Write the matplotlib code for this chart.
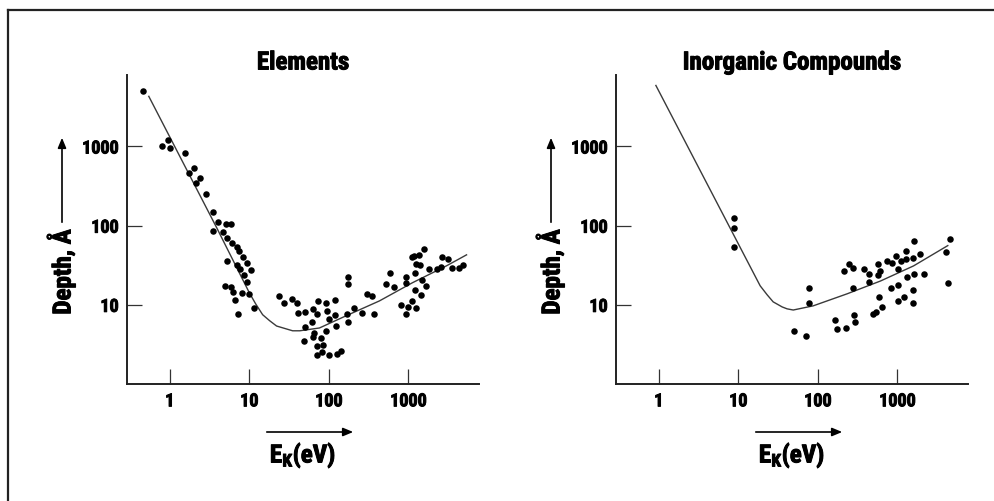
import matplotlib
matplotlib.use("Agg")
import matplotlib.pyplot as plt
import matplotlib.patheffects as pe
from matplotlib.lines import Line2D
from matplotlib.patches import FancyArrowPatch

plt.rcParams["font.family"] = ["Roboto Condensed", "DejaVu Sans"]
plt.rcParams["font.weight"] = "bold"
plt.rcParams["mathtext.fontset"] = "custom"
plt.rcParams["mathtext.rm"] = "Roboto Condensed:bold"
plt.rcParams["mathtext.it"] = "Roboto Condensed:bold"
plt.rcParams["mathtext.bf"] = "Roboto Condensed:bold"

# --- Elements: measured points (kinetic energy eV, depth A)
elem_ek = [0.46, 0.81, 0.95, 1.0, 1.57, 2.0, 1.75, 2.43, 2.12, 2.89, 3.49, 4.0, 5.15, 5.94,
           3.49, 4.67, 5.24, 6.12, 6.99, 7.41, 8.32, 5.24, 9.33, 6.99, 7.71, 10.4, 8.48, 9.25,
           5.0, 5.94, 6.22, 8.17, 9.8, 6.54, 11.6, 7.19,
           23.5, 27.2, 34.6, 39.5, 41.2, 49.4, 62.8, 72.6, 70.5, 61.7, 49.9, 65.4, 62.8, 48.4,
           70.5, 71.3, 79, 84.7, 83, 98.9, 92.5, 95.2, 99.8, 119, 121, 92.5, 122, 127, 143,
           176, 176, 170, 176, 205, 259, 302, 349, 370, 517, 587, 652, 815, 933, 933, 941, 997,
           1120, 1245, 1097, 1186, 1370, 1553, 1245, 1400, 1222, 1791, 1494, 1222, 1678, 1439,
           2260, 2566, 2663, 3103, 3525, 4350, 4790]
elem_depth = [5070, 1020, 1200, 950, 830, 530, 459, 402, 350, 249, 147, 110, 104, 106,
              86, 84, 69, 60, 53, 48, 40, 36, 34, 32, 28, 27.5, 23.8, 19.5,
              17.5, 16.7, 14.6, 14.3, 13.8, 11.5, 9.2, 7.7,
              13.1, 10.4, 12.0, 10.7, 7.9, 8.2, 8.8, 11.3, 7.7, 6.1, 5.3, 4.4, 3.9, 3.5,
              3.05, 2.3, 3.8, 3.1, 2.5, 2.3, 10.5, 8.3, 6.7, 11.5, 7.5, 4.7, 5.4, 2.4, 2.6,
              22.4, 18.1, 7.7, 6.0, 9.2, 7.9, 13.9, 13.0, 7.7, 18.5, 25.4, 16.7, 10, 22.6, 19.1, 7.7, 9.5,
              11.2, 9.2, 40, 41, 43, 51, 33, 31.4, 24.9, 28, 20.3, 15.5, 17.3, 13.5,
              28.6, 30.3, 40, 38, 29.4, 29.4, 31.4]
elem_curve_ek = [0.545, 3.89, 10, 12.0, 14.7, 18, 22, 35, 43, 76, 166, 431, 1120, 2990, 5370]
elem_curve_depth = [4300, 94, 14.2, 10.3, 7.5, 6.3, 5.4, 4.7, 4.7, 5.1, 7.3, 11.2, 19, 31, 42.8]

# --- Inorganic compounds
comp_ek = [8.75, 8.75, 8.75, 50.4, 71.4, 76.4, 76.4, 166, 174, 228, 282, 294, 211, 244, 274,
           277, 385, 445, 445, 566, 600, 566, 590, 630, 530, 495, 743, 860, 966, 1094, 1291,
           1276, 1024, 1582, 1610, 1918, 1330, 1610, 2153, 819, 1024, 1550, 1012, 1205, 1550,
           4540, 4045, 4320]
comp_depth = [125, 92.5, 53.7, 4.7, 4.06, 16.4, 10.4, 6.5, 4.9, 5.1, 7.5, 6.0, 26.4, 32.7, 29.2,
              16.1, 28.3, 24.7, 19.5, 32.4, 26.7, 23.8, 12.4, 9.4, 8.2, 7.7, 35.7, 33.7, 41.3, 35.7, 47.3,
              37.9, 28, 39, 64, 43.8, 22.2, 24.7, 24.5, 16.3, 17.7, 15.2, 11.3, 12.5, 10.6,
              68, 46.4, 18.8]
comp_curve_ek = [0.92, 18.8, 23, 27.4, 35.6, 41, 49, 87, 234, 612, 1590, 4290]
comp_curve_depth = [5900, 17.4, 13.4, 10.9, 9.4, 8.9, 8.6, 9.7, 13.8, 20, 31, 56]

x_ticks = [1, 10, 100, 1000]
y_ticks = [10, 100, 1000]

W, H = 994, 502
fig = plt.figure(figsize=(W / 100, H / 100), dpi=100)
heavy = [pe.withStroke(linewidth=0.7, foreground="black")]


def px(x, y):
    return (x / W, 1 - y / H)


panels = [
    ("Elements", 127, elem_ek, elem_depth, elem_curve_ek, elem_curve_depth),
    ("Inorganic Compounds", 616, comp_ek, comp_depth, comp_curve_ek, comp_curve_depth),
]

for title, x0, ek, depth, cek, cdepth in panels:
    ax = fig.add_axes([x0 / W, 1 - 385 / H, 352 / W, 309 / H])
    ax.plot(cek, cdepth, color="#3a3a3a", lw=1.0)
    ax.scatter(ek, depth, s=22, color="black", zorder=3, linewidths=0)
    ax.set_xscale("log")
    ax.set_yscale("log")
    ax.set_xlim(0.29, 7700)
    ax.set_ylim(1.0, 8000)
    ax.minorticks_off()
    ax.set_xticks(x_ticks)
    ax.set_xticklabels([str(t) for t in x_ticks])
    ax.set_yticks(y_ticks)
    ax.set_yticklabels([str(t) for t in y_ticks])
    ax.tick_params(direction="in", length=10.5, width=0.9, labelsize=13, color="#333333")
    ax.tick_params(axis="x", pad=6)
    ax.tick_params(axis="y", pad=6)
    for lab in ax.get_xticklabels() + ax.get_yticklabels():
        lab.set_path_effects(heavy)
    for s in ("top", "right"):
        ax.spines[s].set_visible(False)
    for s in ("left", "bottom"):
        ax.spines[s].set_linewidth(1.4)
        ax.spines[s].set_color("#222222")
    ax.set_title(title, fontsize=18, fontweight="bold", pad=4, path_effects=heavy)

    # y label with arrow
    dx = x0 - 127
    fig.text(*px(61 + dx, 273), "Depth, Å", rotation=90, fontsize=18, fontweight="bold",
             ha="center", va="center", path_effects=heavy)
    fig.add_artist(FancyArrowPatch(
        px(62 + dx, 226), px(62 + dx, 136), transform=fig.transFigure,
        arrowstyle="-|>,head_length=6,head_width=2.5", color="black", lw=1.2))
    # x label with arrow
    fig.text(*px(303 + dx, 456), "E$_{\\rm K}$(eV)", fontsize=18, fontweight="bold",
             ha="center", va="center", path_effects=heavy)
    fig.add_artist(FancyArrowPatch(
        px(264 + dx, 433), px(356 + dx, 433), transform=fig.transFigure,
        arrowstyle="-|>,head_length=6,head_width=2.5", color="black", lw=1.2))

# page frame
fig.add_artist(Line2D([8 / W, 1.0], [1 - 11 / H] * 2, transform=fig.transFigure,
                      color="#222222", lw=1.6))
fig.add_artist(Line2D([8 / W] * 2, [0, 1 - 11 / H], transform=fig.transFigure,
                      color="#222222", lw=1.6))

fig.savefig("out.png", dpi=100)
